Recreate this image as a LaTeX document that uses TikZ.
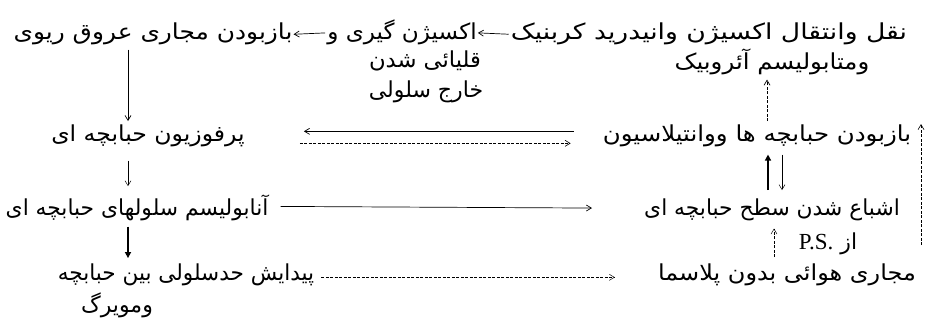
\documentclass[tikz,border=0pt]{standalone}
\usepackage{graphicx}
\usepackage{fontspec}
\setmainfont{Liberation Serif}
\newfontfamily\arabicfont[Script=Arabic]{DejaVu Sans}
\newfontfamily\psfont{Liberation Serif}
\TeXXeTstate=1
\usetikzlibrary{arrows.meta,calc}
\newcommand{\sx}[2]{\scalebox{#1}[1]{#2}}
\begin{document}
\begin{tikzpicture}[x=1pt,y=-1pt,
  lbl/.style={inner sep=0pt, anchor=base, font=\arabicfont\fontsize{22}{26}\selectfont},
  arr/.style={-{Straight Barb[length=5pt,width=6pt]}, line width=0.7pt},
  boldarr/.style={-{Triangle[length=6pt,width=6pt]}, line width=1.6pt},
  dsh/.style={dash pattern=on 3pt off 1.5pt}
]
\useasboundingbox (0,0) rectangle (925,326);
% column coordinates
\coordinate (colL) at (128,0);
\coordinate (colR) at (767,0);
\coordinate (colRa) at (768,0);
\coordinate (colRb) at (782,0);
\coordinate (colPS) at (774,0);
\coordinate (br) at (921,245);
% top row
\node[lbl] (A1) at (153,40) {\sx{1.13}{\beginR بازبودن مجاری عروق ریوی\endR}};
\node[lbl] (A2a) at (402,40) {\sx{1.05}{\beginR اکسیژن گیری و\endR}};
\node[lbl] (A2b) at (425,68) {\sx{1.03}{\beginR قلیائی شدن\endR}};
\node[lbl] (A2c) at (426,98) {\sx{1.0}{\beginR خارج سلولی\endR}};
\node[lbl] (A3a) at (709,40) {\sx{1.21}{\beginR نقل وانتقال اکسیژن وانیدرید کربنیک\endR}};
\node[lbl] (A3b) at (772,70) {\sx{1.11}{\beginR ومتابولیسم آئروبیک\endR}};
% second row
\node[lbl] (B1) at (148,141) {\sx{1.07}{\beginR پرفوزیون حبابچه ای\endR}};
\node[lbl] (B2) at (757,141) {\sx{1.11}{\beginR بازبودن حبابچه ها ووانتیلاسیون\endR}};
% third row
\node[lbl] (C1) at (137,215) {\sx{0.99}{\beginR آنابولیسم سلولهای حبابچه ای\endR}};
\node[lbl] (C2) at (772,215) {\sx{0.99}{\beginR اشباع شدن سطح حبابچه ای\endR}};
\node[lbl] (PS) at (828,249) {\beginR از \beginL{\psfont\fontsize{23}{26}\selectfont P.S.}\endL\endR};
% fourth row
\node[lbl] (D1) at (186,280) {\sx{0.98}{\beginR پیدایش حدسلولی بین حبابچه\endR}};
\node[lbl] (D1b) at (117,312) {\beginR ومویرگ\endR};
\node[lbl] (D2) at (787,280) {\sx{1.09}{\beginR مجاری هوائی بدون پلاسما\endR}};
% top row arrows
\draw[arr, shorten <=2pt, shorten >=1pt] (A3a.west) -- (A2a.east);
\draw[arr, shorten <=2pt, shorten >=1pt] (A2a.west) -- (A1.east);
% left column
\draw[arr, shorten <=4pt, shorten >=3pt] (A1.south -| colL) -- (B1.north -| colL);
\draw[arr, line width=0.5pt, shorten <=14pt, shorten >=8pt] (B1.south -| colL) -- (C1.north -| colL);
\draw[boldarr, shorten <=6pt, shorten >=5pt] (C1.south -| colL) -- (D1.north -| colL);
% right column
\draw[arr, dsh, shorten <=3pt, shorten >=4pt] (B2.north -| colR) -- (A3b.south -| colR);
\draw[boldarr, line width=1.4pt, shorten <=8pt, shorten >=8pt] (C2.north -| colRa) -- (B2.south -| colRa);
\draw[arr, line width=0.5pt, shorten <=8pt, shorten >=8pt] (B2.south -| colRb) -- (C2.north -| colRb);
\draw[arr, dsh, line width=0.5pt, shorten <=6pt, shorten >=8pt] (D2.north -| colPS) -- (C2.south -| colPS);
\draw[arr, dsh, line width=0.6pt] (br) -- (br |- B2.north);
% horizontal arrows
\draw[arr, shorten <=29pt, shorten >=59pt] ([yshift=4pt]B2.west) -- ([yshift=4pt]B1.east);
\draw[arr, dsh, line width=0.6pt, shorten <=55pt, shorten >=32pt] ([yshift=-8pt]B1.east) -- ([yshift=-8pt]B2.west);
\draw[arr, shorten <=12pt, shorten >=52pt] ([yshift=1pt]C1.east) -- ([yshift=1pt]C2.west);
\draw[arr, dsh, line width=0.5pt, shorten <=7pt, shorten >=43pt] ([yshift=-3pt]D1.east) -- ([yshift=-3pt]D2.west);
\end{tikzpicture}
\end{document}
